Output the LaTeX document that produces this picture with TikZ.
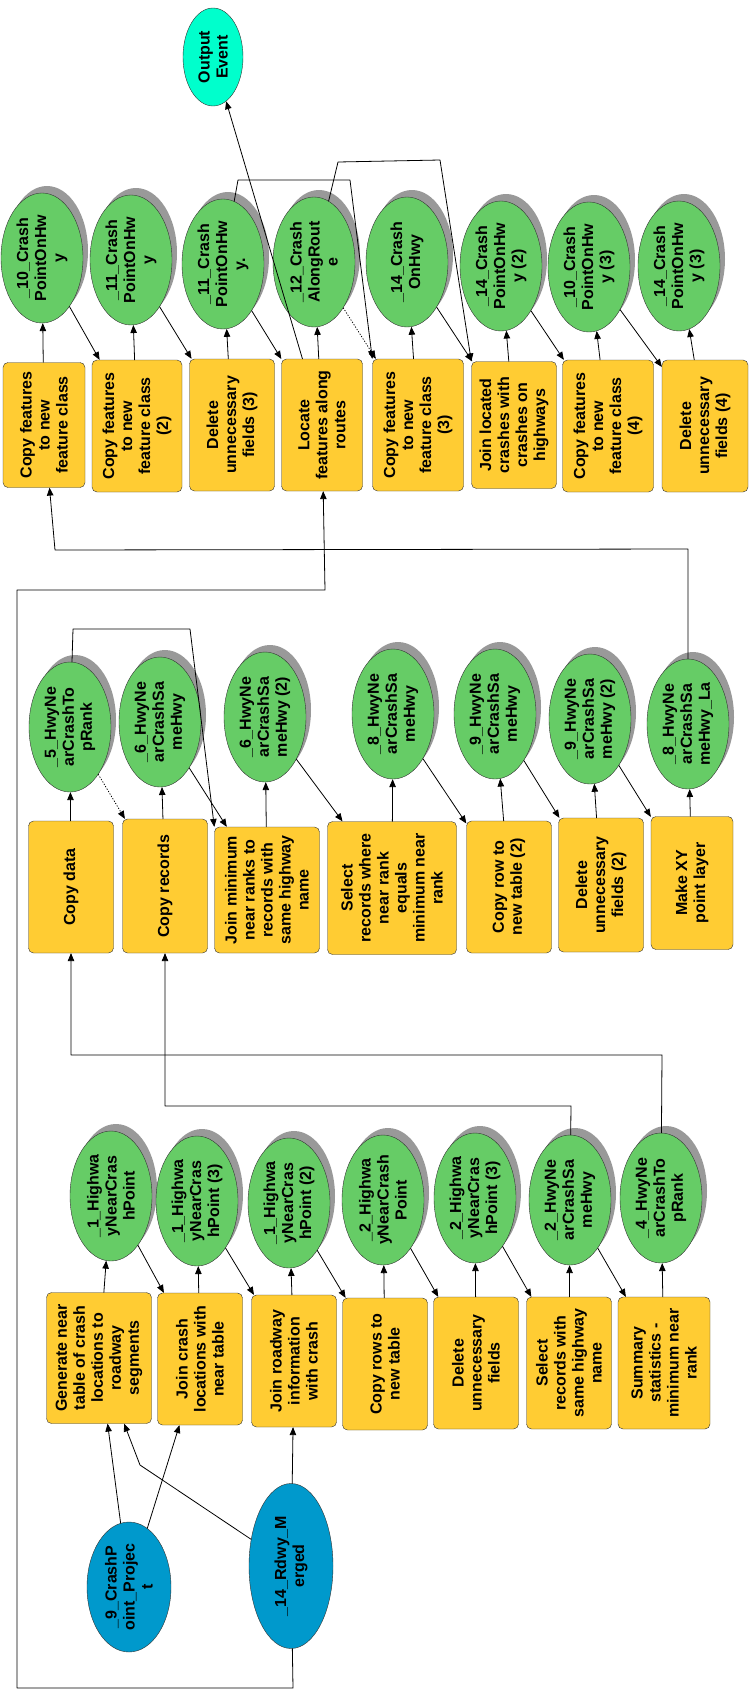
\documentclass[tikz,border=0pt]{standalone}
\usepackage{fontspec}
\setmainfont{Liberation Sans}
\usetikzlibrary{arrows,shapes.geometric,shadows}
\definecolor{toolyellow}{RGB}{255,204,51}
\definecolor{datagreen}{RGB}{102,204,102}
\definecolor{inputblue}{RGB}{0,153,204}
\definecolor{eventcyan}{RGB}{0,255,204}
\definecolor{shadowgray}{RGB}{153,153,153}

\begin{document}
\begin{tikzpicture}[line cap=round,line join=round,>=triangle 45,x=1pt,y=-1pt,
  every node/.style={rotate=90,align=center,inner sep=0pt,font=\bfseries\fontsize{16}{18}\selectfont},
  tool/.style={rectangle,rounded corners=5pt,draw=black!80,fill=toolyellow,minimum width=132pt,minimum height=85pt},
  data/.style={ellipse,draw=black!80,fill=datagreen,minimum width=130pt,minimum height=82pt,
    drop shadow={shadow xshift=5pt,shadow yshift=7pt,fill=shadowgray,opacity=1}},
  input/.style={ellipse,draw=black!80,fill=inputblue,minimum width=130pt,minimum height=84pt},
  flow/.style={->,line width=0.8pt},
  pre/.style={->,line width=0.8pt,dotted}]
\useasboundingbox (0,0) rectangle (751,1690);

% top row
\node[tool,minimum width=125pt,minimum height=82pt] (copyfc) at (44,425) {Copy features\\to new\\feature class};
\node[tool,minimum height=90pt] (copyfc2) at (137,426) {Copy features\\to new\\feature class\\(2)};
\node[tool] (delf3) at (232,425) {Delete\\unnecessary\\fields (3)};
\node[tool,minimum height=81pt] (locate) at (322,425) {Locate\\features along\\routes};
\node[tool,minimum height=91pt] (copyfc3) at (418,425) {Copy features\\to new\\feature class\\(3)};
\node[tool,minimum width=127pt] (joinloc) at (514,425) {Join located\\crashes with\\crashes on\\highways};
\node[tool,minimum height=91pt] (copyfc4) at (608,426) {Copy features\\to new\\feature class\\(4)};
\node[tool,minimum height=86pt] (delf4) at (705,426) {Delete\\unnecessary\\fields (4)};

\node[data] (crash10) at (42,258) {\_10\_Crash\\PointOnHw\\y};
\node[data] (crash11) at (131,260) {\_11\_Crash\\PointOnHw\\y};
\node[data] (crash11b) at (223,264) {\_11\_Crash\\PointOnHw\\y.};
\node[data] (crash12) at (314,262) {\_12\_Crash\\AlongRout\\e};
\node[data] (crash14) at (407,262) {\_14\_Crash\\OnHwy};
\node[data] (crash14b) at (501,266) {\_14\_Crash\\PointOnHw\\y (2)};
\node[data] (crash10b) at (589,267) {\_10\_Crash\\PointOnHw\\y (3)};
\node[data] (crash14c) at (679,266) {\_14\_Crash\\PointOnHw\\y (3)};
\node[ellipse,draw=black!80,fill=eventcyan,minimum width=98pt,minimum height=60pt] (outev) at (213,57) {Output\\Event};

% middle row
\node[tool] (copydata) at (71,887) {Copy data};
\node[tool,minimum width=134pt] (copyrec) at (165,886) {Copy records};
\node[tool,minimum width=126pt,minimum height=105pt] (joinmin) at (267,890) {Join minimum\\near ranks to\\records with\\same highway\\name};
\node[tool,minimum width=133pt,minimum height=129pt] (selmin) at (392,888) {Select\\records where\\near rank\\equals\\minimum near\\rank};
\node[tool] (copyrow2) at (509,887) {Copy row to\\new table (2)};
\node[tool,minimum width=134pt] (delf2) at (601,885) {Delete\\unnecessary\\fields (2)};
\node[tool,minimum width=133pt,minimum height=82pt] (makexy) at (692,883) {Make XY\\point layer};

\node[data] (near5) at (70,727) {\_5\_HwyNe\\arCrashTo\\pRank};
\node[data] (near6) at (160,722) {\_6\_HwyNe\\arCrashSa\\meHwy};
\node[data] (near6b) at (265,717) {\_6\_HwyNe\\arCrashSa\\meHwy (2)};
\node[data] (near8) at (393,714) {\_8\_HwyNe\\arCrashSa\\meHwy};
\node[data] (near9) at (495,714) {\_9\_HwyNe\\arCrashSa\\meHwy};
\node[data] (near9b) at (590,719) {\_9\_HwyNe\\arCrashSa\\meHwy (2)};
\node[data] (near8la) at (688,724) {\_8\_HwyNe\\arCrashSa\\meHwy\_La};

% bottom row
\node[tool,minimum width=131pt,minimum height=105pt] (gennear) at (99,1358) {Generate near\\table of crash\\locations to\\roadway\\segments};
\node[tool] (joinnear) at (200,1359) {Join crash\\locations with\\near table};
\node[tool] (joinrdwy) at (294,1361) {Join roadway\\information\\with crash};
\node[tool] (copyrows) at (385,1364) {Copy rows to\\new table};
\node[tool] (delf) at (476,1363) {Delete\\unnecessary\\fields};
\node[tool] (selsame) at (569,1363) {Select\\records with\\same highway\\name};
\node[tool,minimum height=92pt] (sumstat) at (664,1363) {Summary\\statistics -\\minimum near\\rank};

\node[data] (hw1) at (111,1196) {\_1\_Highwa\\yNearCras\\hPoint};
\node[data] (hw1c) at (197,1201) {\_1\_Highwa\\yNearCras\\hPoint (3)};
\node[data] (hw1b) at (289,1203) {\_1\_Highwa\\yNearCras\\hPoint (2)};
\node[data] (hw2) at (383,1200) {\_2\_Highwa\\yNearCrash\\Point};
\node[data] (hw2c) at (475,1198) {\_2\_Highwa\\yNearCras\\hPoint (3)};
\node[data] (near2) at (570,1200) {\_2\_HwyNe\\arCrashSa\\meHwy};
\node[data] (near4) at (661,1198) {\_4\_HwyNe\\arCrashTo\\pRank};

\node[input] (crashpt) at (129,1587) {\_9\_CrashP\\oint\_Projec\\t};
\node[input,minimum width=165pt] (rdwy) at (291,1566) {\_14\_Rdwy\_M\\erged};

% top connectors
\draw[flow] (copyfc) -- (crash10);
\draw[flow] (crash10) -- (copyfc2);
\draw[flow] (copyfc2) -- (crash11);
\draw[flow] (crash11) -- (delf3);
\draw[flow] (delf3) -- (crash11b);
\draw[flow] (crash11b) -- (locate);
\draw[flow] (locate) -- (crash12);
\draw[flow] (locate) -- (outev);
\draw[pre] (crash12) -- (copyfc3);
\draw[flow] (crash11b) -- (238,180) -- (350,180) -- (copyfc3.north east);
\draw[flow] (copyfc3) -- (crash14);
\draw[flow] (crash14) -- (joinloc);
\draw[flow] (crash12) -- (338,162) -- (440,160) -- (joinloc.north east);
\draw[flow] (joinloc) -- (crash14b);
\draw[flow] (crash14b) -- (copyfc4);
\draw[flow] (copyfc4) -- (crash10b);
\draw[flow] (crash10b) -- (delf4);
\draw[flow] (delf4) -- (crash14c);

% middle connectors
\draw[flow] (copydata) -- (near5);
\draw[pre] (near5) -- (copyrec);
\draw[flow] (copyrec) -- (near6);
\draw[flow] (near6) -- (joinmin);
\draw[flow] (near5) -- (73,629) -- (190,629) -- (joinmin.north east);
\draw[flow] (joinmin) -- (near6b);
\draw[flow] (near6b) -- (selmin);
\draw[flow] (selmin) -- (near8);
\draw[flow] (near8) -- (copyrow2);
\draw[flow] (copyrow2) -- (near9);
\draw[flow] (near9) -- (delf2);
\draw[flow] (delf2) -- (near9b);
\draw[flow] (near9b) -- (makexy);
\draw[flow] (makexy) -- (near8la);
\draw[flow] (near8la) -- (688,549) -- (55,550) -- (copyfc);

% bottom connectors
\draw[flow] (gennear) -- (hw1);
\draw[flow] (hw1) -- (joinnear);
\draw[flow] (joinnear) -- (hw1c);
\draw[flow] (hw1c) -- (joinrdwy);
\draw[flow] (joinrdwy) -- (hw1b);
\draw[flow] (hw1b) -- (copyrows);
\draw[flow] (copyrows) -- (hw2);
\draw[flow] (hw2) -- (delf);
\draw[flow] (delf) -- (hw2c);
\draw[flow] (hw2c) -- (selsame);
\draw[flow] (selsame) -- (near2);
\draw[flow] (near2) -- (sumstat);
\draw[flow] (sumstat) -- (near4);
\draw[flow] (near4) -- (662,1055) -- (71,1055) -- (copydata);
\draw[flow] (near2) -- (571,1106) -- (165,1106) -- (copyrec);

% inputs
\draw[flow] (crashpt) -- (gennear);
\draw[flow] (crashpt) -- (joinnear);
\draw[flow] (rdwy) -- (140,1465) -- (gennear);
\draw[flow] (rdwy) -- (joinrdwy);
\draw[flow] (rdwy) -- (293,1688) -- (17,1688) -- (17,590) -- (325,590) -- (locate);
\end{tikzpicture}
\end{document}
